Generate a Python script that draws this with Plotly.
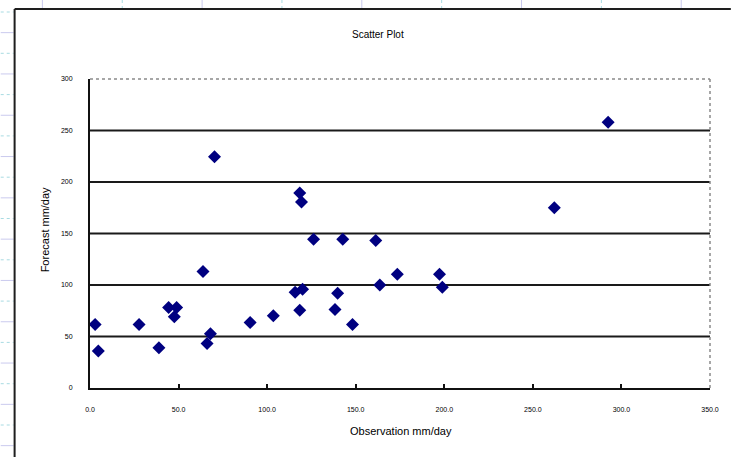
import plotly.graph_objects as go

# Observation vs forecast (mm/day)
observation = [2.9, 4.7, 27.7, 38.9, 44.4, 48.9, 47.6, 63.8, 66.1, 68.0,
               70.3, 90.4, 103.5, 115.8, 120.0, 118.4, 118.4, 119.4, 126.2, 138.3,
               139.8, 142.7, 148.2, 161.3, 163.6, 173.5, 197.3, 198.9, 262.1, 292.5]
forecast = [61.7, 36.0, 61.7, 39.0, 78.2, 78.2, 69.2, 113.0, 43.2, 52.6,
            224.4, 63.6, 70.1, 92.9, 95.8, 75.6, 189.3, 180.5, 144.5, 76.3,
            91.9, 144.5, 61.7, 143.2, 100.0, 110.4, 110.4, 97.7, 175.0, 258.1]

x_ticks = [0, 50, 100, 150, 200, 250, 300, 350]
y_ticks = [0, 50, 100, 150, 200, 250, 300]

title_text = "Scatter Plot"
x_title = "Observation mm/day"
y_title = "Forecast mm/day"

W, H = 731, 457
L, R, T, B = 90, 715, 79, 388  # plot area in pixels


def px(x):
    return (x - L) / (R - L)


def py(y):
    return (B - y) / (B - T)


FONT = "Liberation Sans, Arial, sans-serif"

fig = go.Figure()
fig.add_trace(go.Scatter(
    x=observation, y=forecast, mode="markers",
    marker=dict(symbol="diamond", size=10, color="#000080", line=dict(width=0)),
    showlegend=False, hoverinfo="x+y",
))

shapes = []

# worksheet cell lines around the embedded chart
for i, yy in enumerate([12 + k * 20.65 for k in range(22)]):
    dotted = i % 2 == 0
    shapes.append(dict(type="line", xref="paper", yref="paper",
                       x0=px(0), x1=px(13), y0=py(yy), y1=py(yy),
                       line=dict(color="#a8dbe2" if dotted else "#cacaee",
                                 width=1, dash="dot" if dotted else "solid"),
                       layer="below"))
for i, xx in enumerate([42 + k * 80.5 for k in range(9)]):
    dotted = i % 2 == 1
    shapes.append(dict(type="line", xref="paper", yref="paper",
                       x0=px(xx), x1=px(xx), y0=py(0), y1=py(8),
                       line=dict(color="#a8dbe2" if dotted else "#cacaee",
                                 width=1, dash="dot" if dotted else "solid"),
                       layer="below"))

# chart frame
shapes.append(dict(type="line", xref="paper", yref="paper",
                   x0=px(14), x1=px(14), y0=py(9), y1=py(H + 5),
                   line=dict(color="#1e1e1e", width=2)))
shapes.append(dict(type="line", xref="paper", yref="paper",
                   x0=px(14), x1=px(W + 5), y0=py(9), y1=py(9),
                   line=dict(color="#1e1e1e", width=2)))

# horizontal gridlines
for v in y_ticks[1:-1]:
    shapes.append(dict(type="line", xref="paper", yref="y",
                       x0=0, x1=1, y0=v, y1=v,
                       line=dict(color="#1a1a1a", width=2), layer="below"))

# dotted top and right borders of the plot area
shapes.append(dict(type="line", xref="paper", yref="paper", x0=0, x1=1, y0=1, y1=1,
                   line=dict(color="#8a8a8a", width=1.5, dash="dot")))
shapes.append(dict(type="line", xref="paper", yref="paper", x0=1, x1=1, y0=0, y1=1,
                   line=dict(color="#8a8a8a", width=1.5, dash="dot")))

annotations = [
    dict(text=title_text, xref="paper", yref="paper", x=px(380), y=py(35),
         xanchor="center", yanchor="middle",
         showarrow=False, font=dict(family=FONT, size=10, color="#000")),
    dict(text=x_title, xref="paper", yref="paper", x=px(404), y=py(431),
         xanchor="center", yanchor="middle",
         showarrow=False, font=dict(family=FONT, size=11, color="#000")),
    dict(text=y_title, xref="paper", yref="paper", x=px(45), y=py(230),
         xanchor="center", yanchor="middle",
         showarrow=False, textangle=-90, font=dict(family=FONT, size=11, color="#000")),
]

fig.update_layout(
    width=W, height=H,
    margin=dict(l=L, r=W - R, t=T, b=H - B, pad=0),
    paper_bgcolor="white", plot_bgcolor="rgba(0,0,0,0)",
    shapes=shapes, annotations=annotations,
    font=dict(family=FONT, color="#000"),
)

fig.update_xaxes(
    range=[0, 350], tickvals=x_ticks, tickformat=".1f",
    showgrid=False, zeroline=False,
    showline=True, linecolor="#111", linewidth=2,
    ticks="inside", ticklen=4, tickwidth=1.5, tickcolor="#111",
    tickfont=dict(family=FONT, size=7, color="#000"),
    ticklabelstandoff=14,
)
fig.update_yaxes(
    range=[0, 300], tickvals=y_ticks,
    showgrid=False, zeroline=False,
    showline=True, linecolor="#111", linewidth=2,
    ticks="", tickfont=dict(family=FONT, size=7, color="#000"),
    ticklabelstandoff=14,
)

fig.write_html("out.html")
